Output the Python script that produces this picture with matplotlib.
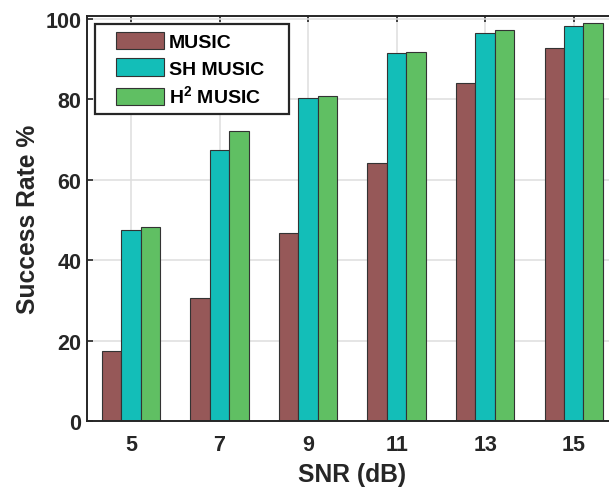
import matplotlib
matplotlib.use('Agg')
import matplotlib.pyplot as plt
import numpy as np
from matplotlib.patches import Rectangle

# Data
snr = [5, 7, 9, 11, 13, 15]
music = [17.4, 30.5, 46.7, 64.1, 83.9, 92.6]
sh_music = [47.4, 67.3, 80.2, 91.4, 96.3, 98.1]
h2_music = [48.3, 72.0, 80.8, 91.8, 97.1, 98.8]
labels = ['MUSIC', 'SH MUSIC', r'H$^{\mathbf{2}}$ MUSIC']
colors = ['#965858', '#13BEB8', '#60BF63']

plt.rcParams['font.family'] = ['Liberation Sans', 'DejaVu Sans']
plt.rcParams['font.weight'] = 'bold'
plt.rcParams['mathtext.fontset'] = 'custom'
plt.rcParams['mathtext.rm'] = 'Liberation Sans:bold'
plt.rcParams['mathtext.bf'] = 'Liberation Sans:bold'
dark = '#262626'

W, H = 609, 489
fig = plt.figure(figsize=(W / 100, H / 100), dpi=100)
# axes runs past the right edge of the figure, as in the reference
ax = fig.add_axes([86.7 / W, 1 - 422.3 / H, (618 - 86.7) / W, (422.3 - 16.7) / H])

x = np.array(snr, dtype=float)
w = 0.44
for k, (vals, c) in enumerate(zip([music, sh_music, h2_music], colors)):
    ax.bar(x + (k - 1) * w, vals, width=w, color=c, edgecolor='#333333',
           linewidth=0.8, label=labels[k])

ax.set_xlim(4, 16)
ax.set_ylim(0, 100.7)
ax.set_xticks(snr)
ax.set_yticks([0, 20, 40, 60, 80, 100])
ax.set_axisbelow(True)
ax.grid(True, color='#DEDEDE', linewidth=1.1)

for s in ax.spines.values():
    s.set_color(dark)
    s.set_linewidth(1.4)

ax.tick_params(axis='both', direction='in', length=4, width=1.2, color=dark,
               labelsize=15.5, labelcolor=dark, top=True, right=True)
ax.tick_params(axis='x', pad=9)
ax.tick_params(axis='y', pad=4)

ax.set_xlabel('SNR (dB)', fontsize=17.7, fontweight='bold', color=dark, labelpad=5)
ax.set_ylabel('Success Rate %', fontsize=17.7, fontweight='bold', color=dark, labelpad=3.5)

# legend box in MATLAB style
frame = Rectangle((94.5 / W, 1 - 114.5 / H), (289 - 94.5) / W, (114.5 - 24.5) / H,
                  transform=fig.transFigure, facecolor='white', edgecolor=dark,
                  linewidth=1.6, zorder=4, clip_on=False)
ax.add_artist(frame)
leg = ax.legend(loc='upper left', bbox_to_anchor=(115.7 / W, 1 - 33 / H),
                bbox_transform=fig.transFigure, frameon=False, borderpad=0,
                borderaxespad=0, handlelength=2.47, handleheight=0.98,
                handletextpad=0.27, labelspacing=0.37,
                prop={'weight': 'bold', 'size': 14})
for t in leg.get_texts():
    t.set_color('black')
leg.set_zorder(5)

fig.savefig('out.png', dpi=100)
